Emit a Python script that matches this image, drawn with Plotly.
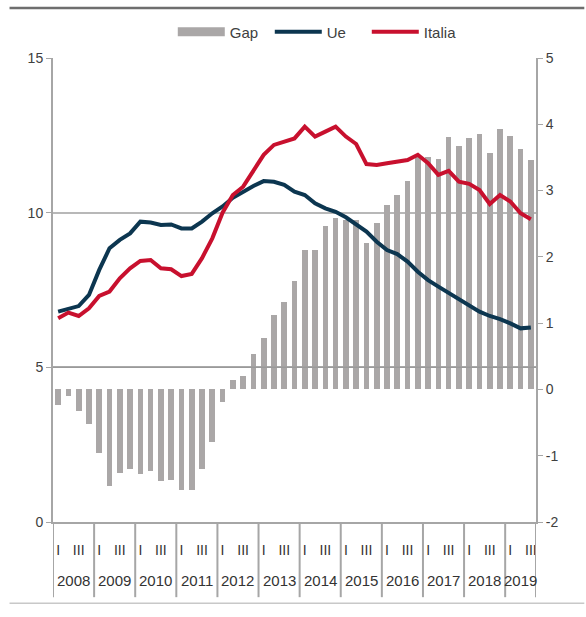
import plotly.graph_objects as go

years = [str(y) for y in range(2008, 2020)]
quarter_labels = ["I", "", "III", ""]
right_ticks = [-2, -1, 0, 1, 2, 3, 4, 5]
left_ticks = [0, 5, 10, 15]

gap = [-0.24, -0.1, -0.33, -0.52, -0.96, -1.45, -1.26, -1.2, -1.28, -1.23,
       -1.38, -1.37, -1.52, -1.51, -1.2, -0.8, -0.19, 0.14, 0.2, 0.54,
       0.77, 1.13, 1.32, 1.63, 2.11, 2.11, 2.46, 2.58, 2.56, 2.55,
       2.21, 2.51, 2.78, 2.93, 3.14, 3.53, 3.5, 3.47, 3.81, 3.67,
       3.8, 3.85, 3.57, 3.93, 3.82, 3.62, 3.46]
ue = [6.8, 6.88, 6.98, 7.34, 8.15, 8.85, 9.12, 9.33, 9.71, 9.68,
      9.6, 9.62, 9.49, 9.49, 9.71, 9.98, 10.2, 10.48, 10.68, 10.86,
      11.02, 11.0, 10.9, 10.68, 10.57, 10.3, 10.14, 10.03, 9.85, 9.6,
      9.39, 9.06, 8.79, 8.66, 8.42, 8.09, 7.82, 7.61, 7.41, 7.2,
      7.02, 6.8, 6.66, 6.56, 6.42, 6.26, 6.29]
italia = [6.59, 6.77, 6.66, 6.91, 7.31, 7.45, 7.88, 8.2, 8.44, 8.47,
          8.2, 8.17, 7.95, 8.02, 8.53, 9.17, 10.0, 10.57, 10.84, 11.38,
          11.87, 12.19, 12.28, 12.4, 12.78, 12.46, 12.62, 12.78, 12.46, 12.22,
          11.57, 11.54, 11.6, 11.65, 11.7, 11.87, 11.6, 11.22, 11.35, 11.0,
          10.93, 10.73, 10.28, 10.57, 10.36, 9.98, 9.79]

n = len(gap)
xq = list(range(n))
q_tickvals = [i for i in xq if quarter_labels[i % 4]]
q_ticktext = [quarter_labels[i % 4] for i in q_tickvals]

FONT = "Liberation Sans, Arial, sans-serif"
AXC = "#a6a6a6"
TXT = "#404040"

fig = go.Figure()
fig.add_trace(go.Bar(x=xq, y=gap, name="Gap", marker=dict(color="#aaa7a7", line_width=0),
                     width=0.55, yaxis="y", showlegend=False))
fig.add_trace(go.Scatter(x=[None], y=[None], mode="lines", name="Gap",
                         line=dict(color="#aaa7a7", width=9), yaxis="y2"))
fig.add_trace(go.Scatter(x=xq, y=ue, name="Ue", mode="lines",
                         line=dict(color="#0c3650", width=4), yaxis="y2"))
fig.add_trace(go.Scatter(x=xq, y=italia, name="Italia", mode="lines",
                         line=dict(color="#c8102e", width=4), yaxis="y2"))

# year labels and dividers
annotations = []
shapes = []
for j, yr in enumerate(years):
    idx = [i for i in xq if i // 4 == j]
    if not idx:
        continue
    center = (idx[0] + idx[-1]) / 2
    annotations.append(dict(x=center, xref="x", y=-0.125, yref="paper", text=yr,
                            showarrow=False, yanchor="middle", xanchor="center",
                            font=dict(size=15, color="#333333")))
    shapes.append(dict(type="line", xref="x", yref="paper", x0=idx[0] - 0.5, x1=idx[0] - 0.5,
                       y0=0, y1=-0.162, line=dict(color=AXC, width=2)))
shapes.append(dict(type="line", xref="x", yref="paper", x0=n - 0.5, x1=n - 0.5,
                   y0=0, y1=-0.162, line=dict(color=AXC, width=2)))

shapes += [
    dict(type="line", xref="paper", yref="paper", x0=-0.09, x1=1.1, y0=1.108, y1=1.108,
         line=dict(color="#6e6e6e", width=2.5)),
    dict(type="line", xref="paper", yref="paper", x0=-0.09, x1=1.1, y0=-0.175, y1=-0.175,
         line=dict(color="#c8c8c8", width=1.5)),
    dict(type="line", xref="paper", yref="y2", x0=0, x1=1, y0=5, y1=5, layer="above",
         line=dict(color="#9a9a9a", width=1.5)),
]

fig.update_layout(
    width=586, height=617,
    margin=dict(l=53, r=50, t=58, b=95),
    paper_bgcolor="white", plot_bgcolor="white",
    font=dict(family=FONT, size=14, color=TXT),
    bargap=0,
    legend=dict(orientation="h", x=0.248, xanchor="left", yref="container",
                y=1 - 32 / 617, yanchor="middle", entrywidth=35, itemwidth=47,
                font=dict(size=15, color=TXT), tracegroupgap=0),
    xaxis=dict(range=[-0.5, n - 0.5], tickvals=q_tickvals, ticktext=q_ticktext,
               showline=True, linecolor=AXC, linewidth=2, tickangle=0,
               ticks="", ticklabelstandoff=14, automargin=False,
               tickfont=dict(size=14, color="#333333"), showgrid=False, zeroline=False),
    yaxis=dict(side="right", range=[-2, 5], tickvals=right_ticks,
               ticktext=[str(v) for v in right_ticks], showgrid=False, zeroline=False,
               showline=True, linecolor=AXC, linewidth=2, ticks="outside", ticklen=5,
               tickcolor=AXC, tickfont=dict(size=14, color=TXT), automargin=False),
    yaxis2=dict(side="left", overlaying="y", range=[0, 15], tickvals=left_ticks,
                ticktext=[str(v) for v in left_ticks], showgrid=True,
                gridcolor="#b8b8b8", gridwidth=2, zeroline=False,
                showline=True, linecolor=AXC, linewidth=2, ticks="outside", ticklen=5,
                tickcolor=AXC, tickfont=dict(size=14, color=TXT), automargin=False),
    shapes=shapes,
    annotations=annotations,
)

fig.write_html("out.html", config={"displayModeBar": False},
               post_script="document.body.style.margin='0px';")
